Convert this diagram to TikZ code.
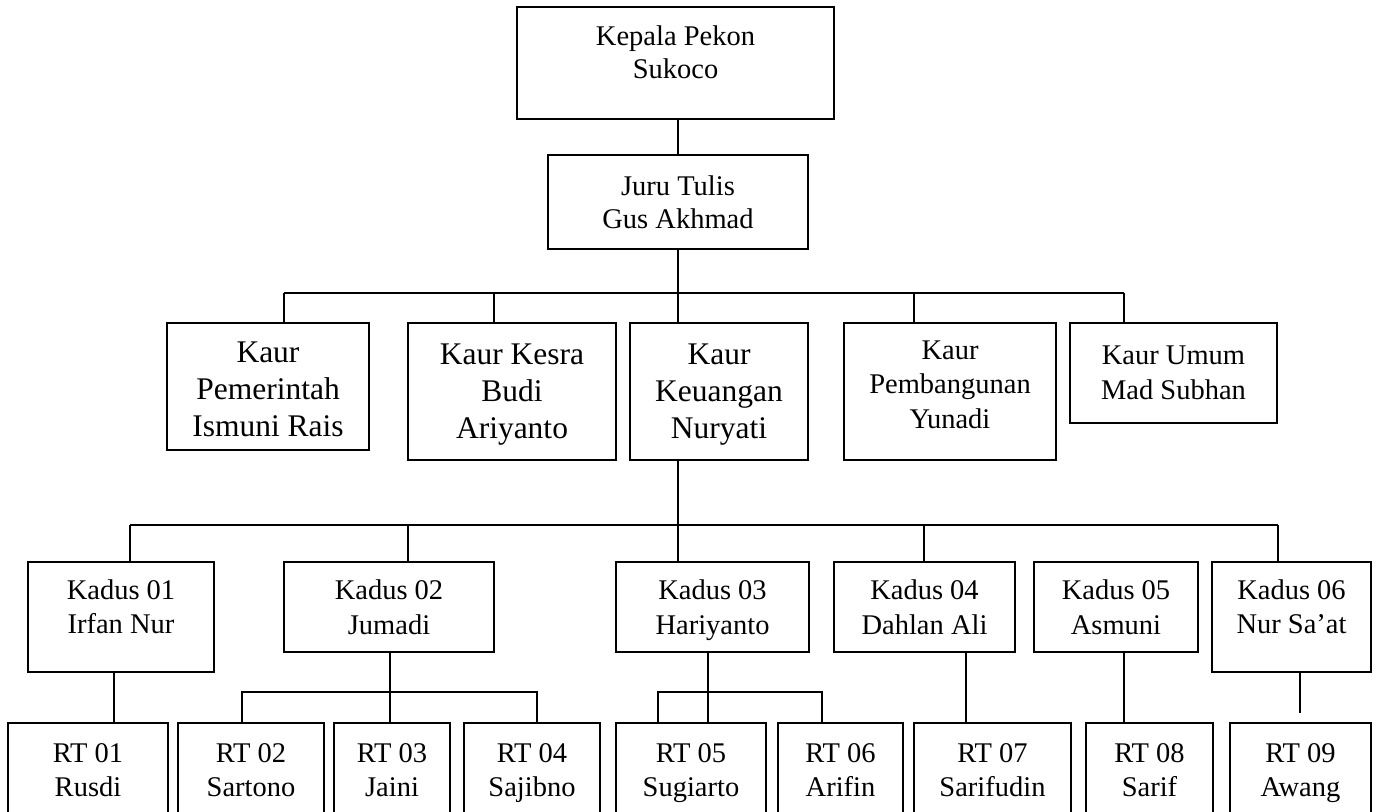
\documentclass[tikz,border=0pt]{standalone}
\usepackage{fontspec}
\setmainfont{Liberation Serif}
\newcommand{\orgfont}{\fontsize{28.5}{34.5}\selectfont}
\newcommand{\lowpad}[1]{\rule[-#1]{0pt}{#1}}
\newcommand{\highpad}[1]{\rule{0pt}{#1}}
\tikzset{
  box/.style={draw, line width=1.8pt, align=center, inner sep=0pt, font=\orgfont},
  bigbox/.style={box, font=\fontsize{31.5}{37}\selectfont},
  link/.style={line width=1.8pt},
}

\begin{document}
\begin{tikzpicture}[x=1pt, y=-1pt]
  \useasboundingbox (0,0) rectangle (1378,811);
  \clip (0,0) rectangle (1378,811);

  %% head and secretary
  \node[box, minimum width=317pt, minimum height=112pt, font=\fontsize{28.5}{33}\selectfont] (kepala) at (675.5,63) {Kepala Pekon\\Sukoco\lowpad{22pt}};
  \node[box, minimum width=260pt, minimum height=94pt, font=\fontsize{28.5}{33}\selectfont] (juru) at (678,202) {Juru Tulis\\Gus Akhmad};

  %% kaur row
  \node[bigbox, minimum width=202pt, minimum height=127pt] (pem) at (268,386.5) {\highpad{27pt}Kaur\\Pemerintah\\Ismuni Rais};
  \node[bigbox, minimum width=208pt, minimum height=137pt] (kes) at (512,391.5) {Kaur Kesra\\Budi\\\smash{Ariyanto}};
  \node[bigbox, minimum width=178pt, minimum height=137pt] (keu) at (719,391.5) {Kaur\\Keuangan\\\smash{Nuryati}};
  \node[box, minimum width=212pt, minimum height=137pt] (pbg) at (950,391.5) {Kaur\\Pembangunan\\Yunadi\lowpad{14pt}};
  \node[box, minimum width=207pt, minimum height=100pt] (umum) at (1173.5,373) {Kaur Umum\\Mad Subhan};

  %% kadus row
  \node[box, minimum width=186pt, minimum height=110pt] (k1) at (121,617) {Kadus 01\\Irfan Nur\lowpad{21pt}};
  \node[box, minimum width=210pt, minimum height=90pt] (k2) at (389,607) {Kadus 02\\Jumadi};
  \node[box, minimum width=193pt, minimum height=90pt] (k3) at (712.5,607) {Kadus 03\\\smash{Hariyanto}};
  \node[box, minimum width=181pt, minimum height=90pt] (k4) at (924.5,607) {Kadus 04\\Dahlan Ali};
  \node[box, minimum width=164pt, minimum height=90pt] (k5) at (1116,607) {Kadus 05\\Asmuni};
  \node[box, minimum width=159pt, minimum height=110pt] (k6) at (1291.5,617) {Kadus 06\\Nur Sa’at\lowpad{21pt}};

  %% rt row, cut by the lower edge
  \foreach \n/\x/\w/\t in {r1/88/160/{RT 01\\Rusdi}, r2/251/146/{RT 02\\Sartono},
      r3/392/116/{RT 03\\Jaini}, r4/532/136/{RT 04\\\smash{Sajibno}}, r5/691/150/{RT 05\\\smash{Sugiarto}},
      r6/840.5/125/{RT 06\\Arifin}, r7/992.5/157/{RT 07\\Sarifudin},
      r8/1149.5/127/{RT 08\\Sarif}, r9/1300.5/141/{RT 09\\\smash{Awang}}} {
    \node[box, minimum width=\w pt, minimum height=94pt] (\n) at (\x,770) {\t};
  }

  %% upper lines
  \coordinate (bus1) at (678,293);
  \coordinate (bus2) at (678,525);
  \draw[link] (juru.north |- kepala.south) -- (juru.north);
  \draw[link] (juru.south) -- (bus1);
  \draw[link] (284,293) -- (1124,293);
  \foreach \x/\n in {284/pem, 494/kes, 678/keu, 914/pbg, 1124/umum} { %drop to each kaur
    \coordinate (t) at (\x,293);
    \draw[link] (t) -- (t |- \n.north);
  }
  \draw[link] (bus1 |- keu.south) -- (bus1 |- k3.north);
  \draw[link] (130,525) -- (1278,525);
  \foreach \x/\n in {130/k1, 408/k2, 924/k4, 1278/k6} { %drop to each kadus
    \coordinate (t) at (\x,525);
    \draw[link] (t) -- (t |- \n.north);
  }

  %% lower lines
  \foreach \x/\a/\b in {114/k1/r1, 390/k2/r3, 708/k3/r5, 966/k4/r7, 1124/k5/r8} {
    \coordinate (t) at (\x,0);
    \draw[link] (t |- \a.south) -- (t |- \b.north);
  }
  \coordinate (k6end) at (1300,713);
  \draw[link] (k6end |- k6.south) -- (k6end);
  \coordinate (sa) at (242,692);
  \coordinate (sb) at (537,692);
  \draw[link] (sa |- r2.north) -- (sa) -- (sb) -- (sb |- r4.north);
  \coordinate (sc) at (658,692);
  \coordinate (sd) at (822,692);
  \draw[link] (sc |- r5.north) -- (sc) -- (sd) -- (sd |- r6.north);
\end{tikzpicture}
\end{document}
